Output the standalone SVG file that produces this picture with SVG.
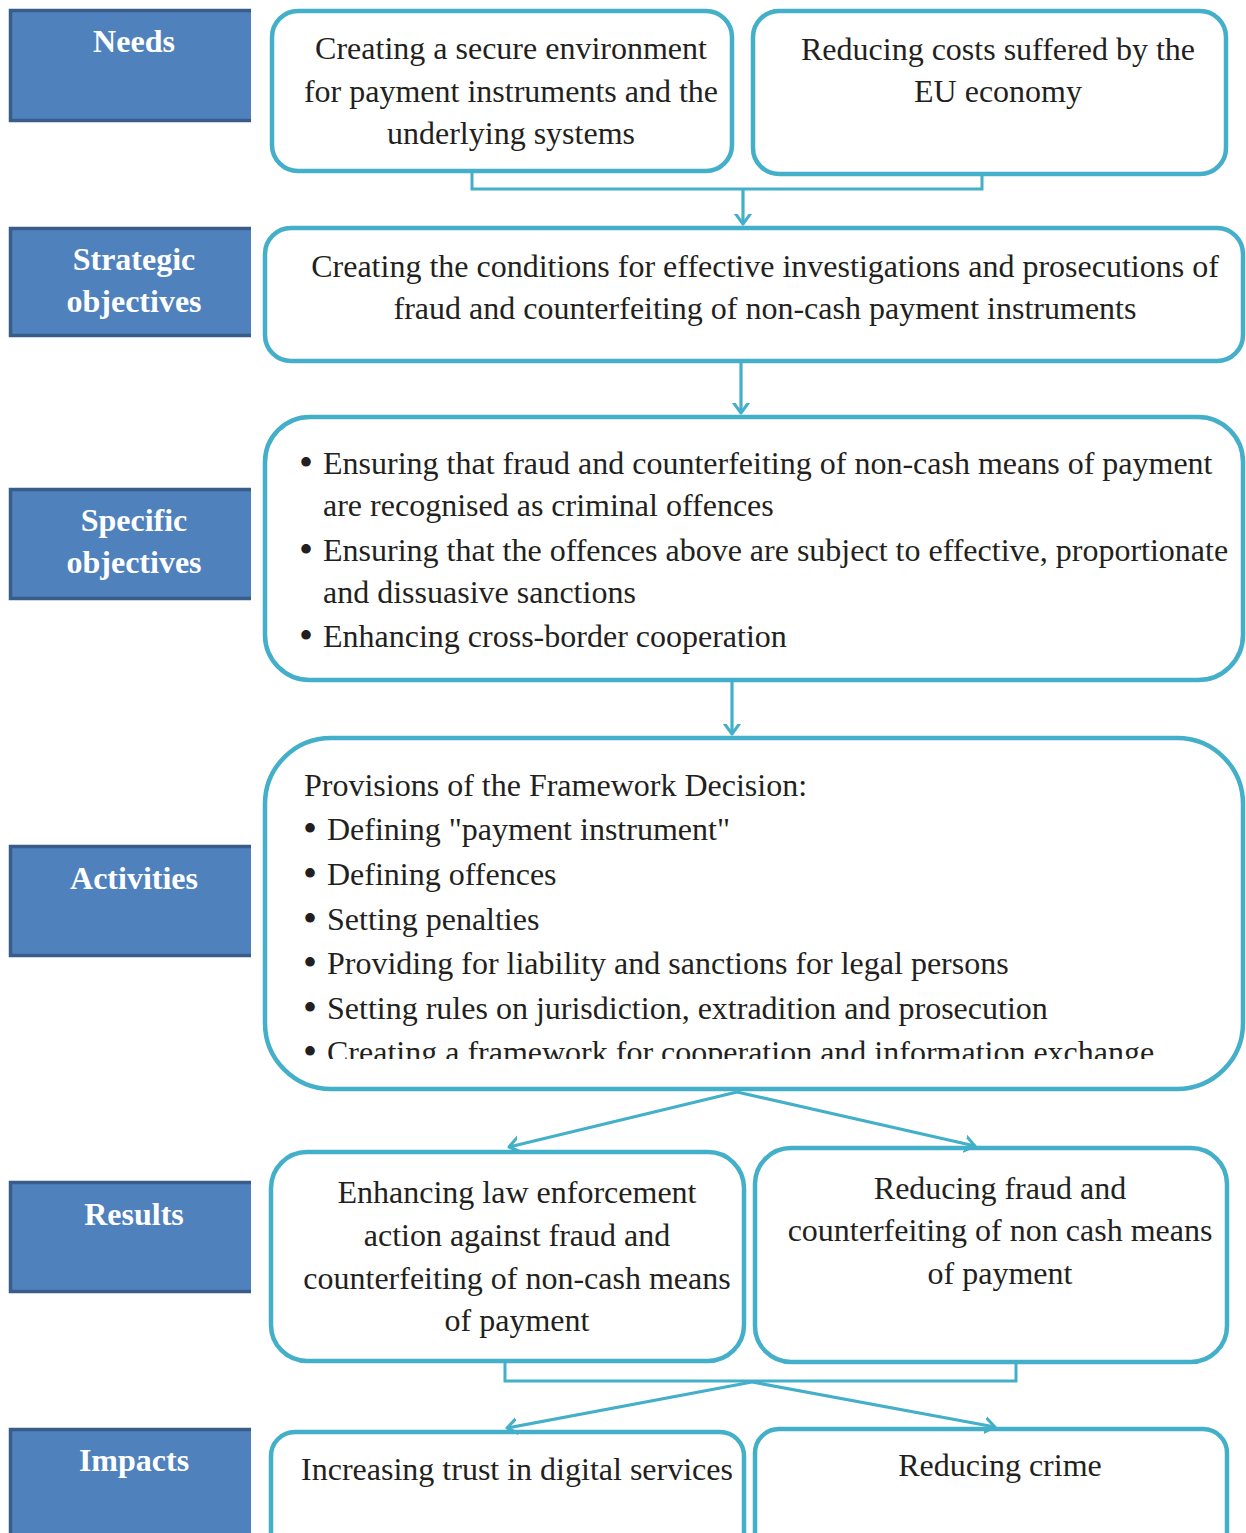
<svg xmlns="http://www.w3.org/2000/svg" width="1246" height="1533" viewBox="0 0 1246 1533">
<defs>
<style>
.lbl{fill:#4f81bd;}
.lblb{fill:none;stroke:#385d8a;stroke-width:3.5;}
.lt{font-family:"Liberation Serif",serif;font-weight:bold;font-size:32px;fill:#ffffff;text-anchor:middle;}
.box{fill:#ffffff;stroke:#43afc8;stroke-width:4.5;}
.t{font-family:"Liberation Serif",serif;font-size:32px;fill:#231f20;}
.c{text-anchor:middle;}
.b{font-size:40px;}
.con{fill:none;stroke:#43afc8;stroke-width:3;}
.arr{fill:none;stroke:#43afc8;stroke-width:3.2;marker-end:url(#ah);}
</style>
<marker id="ah" viewBox="0 0 20 20" refX="10" refY="10" markerWidth="20" markerHeight="20" markerUnits="userSpaceOnUse" orient="auto">
<path d="M-1,2 L10,10 L-1,18" fill="none" stroke="#43afc8" stroke-width="3" stroke-linecap="round" stroke-linejoin="round"/>
</marker>
<clipPath id="actclip"><rect x="260" y="735" width="990" height="324"/></clipPath>
</defs>

<g id="label-needs">
<rect class="lbl" x="10" y="10" width="241" height="111"/>
<path class="lblb" d="M251,10.5 H10.5 V120.5 H251"/>
<text class="lt" x="134" y="52">Needs</text>
</g>
<g id="label-strategic">
<rect class="lbl" x="10" y="228" width="241" height="108"/>
<path class="lblb" d="M251,228.5 H10.5 V335.5 H251"/>
<text class="lt" x="134" y="270">Strategic</text>
<text class="lt" x="134" y="312">objectives</text>
</g>
<g id="label-specific">
<rect class="lbl" x="10" y="489" width="241" height="110"/>
<path class="lblb" d="M251,489.5 H10.5 V598.5 H251"/>
<text class="lt" x="134" y="531">Specific</text>
<text class="lt" x="134" y="573">objectives</text>
</g>
<g id="label-activities">
<rect class="lbl" x="10" y="846" width="241" height="110"/>
<path class="lblb" d="M251,846.5 H10.5 V955.5 H251"/>
<text class="lt" x="134" y="889">Activities</text>
</g>
<g id="label-results">
<rect class="lbl" x="10" y="1182" width="241" height="110"/>
<path class="lblb" d="M251,1182.5 H10.5 V1291.5 H251"/>
<text class="lt" x="134" y="1225">Results</text>
</g>
<g id="label-impacts">
<rect class="lbl" x="10" y="1429" width="241" height="110"/>
<path class="lblb" d="M251,1429.5 H10.5 V1540"/>
<text class="lt" x="134" y="1471">Impacts</text>
</g>

<g id="need-secure">
<rect class="box" x="272" y="11" width="460" height="160" rx="26"/>
<text class="t c" x="511" y="59">Creating a secure environment</text>
<text class="t c" x="511" y="102">for payment instruments and the</text>
<text class="t c" x="511" y="144">underlying systems</text>
</g>
<g id="need-costs">
<rect class="box" x="753" y="11" width="473" height="163" rx="26"/>
<text class="t c" x="998" y="60">Reducing costs suffered by the</text>
<text class="t c" x="998" y="102">EU economy</text>
</g>

<g id="strategic">
<rect class="box" x="265" y="228" width="978" height="133" rx="26"/>
<text class="t c" x="765" y="277">Creating the conditions for effective investigations and prosecutions of</text>
<text class="t c" x="765" y="319">fraud and counterfeiting of non-cash payment instruments</text>
</g>

<g id="specific">
<rect class="box" x="265" y="417" width="978" height="263" rx="45"/>
<text class="t" y="474"><tspan class="b" x="299" dy="2">•</tspan><tspan x="323" dy="-2">Ensuring that fraud and counterfeiting of non-cash means of payment</tspan></text>
<text class="t" x="323" y="516">are recognised as criminal offences</text>
<text class="t" y="561"><tspan class="b" x="299" dy="2">•</tspan><tspan x="323" dy="-2">Ensuring that the offences above are subject to effective, proportionate</tspan></text>
<text class="t" x="323" y="603">and dissuasive sanctions</text>
<text class="t" y="647"><tspan class="b" x="299" dy="2">•</tspan><tspan x="323" dy="-2">Enhancing cross-border cooperation</tspan></text>
</g>

<g id="activities">
<rect class="box" x="265" y="738" width="978" height="351" rx="66"/>
<text class="t" x="304" y="796">Provisions of the Framework Decision:</text>
<text class="t" y="840"><tspan class="b" x="303" dy="2">•</tspan><tspan x="327" dy="-2">Defining "payment instrument"</tspan></text>
<text class="t" y="885"><tspan class="b" x="303" dy="2">•</tspan><tspan x="327" dy="-2">Defining offences</tspan></text>
<text class="t" y="930"><tspan class="b" x="303" dy="2">•</tspan><tspan x="327" dy="-2">Setting penalties</tspan></text>
<text class="t" y="974"><tspan class="b" x="303" dy="2">•</tspan><tspan x="327" dy="-2">Providing for liability and sanctions for legal persons</tspan></text>
<text class="t" y="1019"><tspan class="b" x="303" dy="2">•</tspan><tspan x="327" dy="-2">Setting rules on jurisdiction, extradition and prosecution</tspan></text>
<text class="t" y="1063" clip-path="url(#actclip)"><tspan class="b" x="303" dy="2">•</tspan><tspan x="327" dy="-2">Creating a framework for cooperation and  information exchange</tspan></text>
</g>

<g id="result-enforcement">
<rect class="box" x="271" y="1152" width="473" height="209" rx="36"/>
<text class="t c" x="517" y="1203">Enhancing law enforcement</text>
<text class="t c" x="517" y="1246">action against fraud and</text>
<text class="t c" x="517" y="1289">counterfeiting of non-cash means</text>
<text class="t c" x="517" y="1331">of payment</text>
</g>
<g id="result-reducing">
<rect class="box" x="755" y="1148" width="472" height="214" rx="36"/>
<text class="t c" x="1000" y="1199">Reducing fraud and</text>
<text class="t c" x="1000" y="1241">counterfeiting of non cash means</text>
<text class="t c" x="1000" y="1284">of payment</text>
</g>

<g id="impact-trust">
<rect class="box" x="271" y="1432" width="473" height="140" rx="24"/>
<text class="t c" x="517" y="1480">Increasing trust in digital services</text>
</g>
<g id="impact-crime">
<rect class="box" x="755" y="1429" width="472" height="140" rx="24"/>
<text class="t c" x="1000" y="1476">Reducing crime</text>
</g>

<g id="connectors">
<path class="con" d="M472,172 V189 H982 V175"/>
<path class="arr" d="M743,190 V224"/>
<path class="arr" d="M741,363 V413"/>
<path class="arr" d="M732,681 V734"/>
<path class="arr" d="M737,1092 L509,1147"/>
<path class="arr" d="M737,1092 L975,1146"/>
<path class="con" d="M505,1362 V1381 H1016 V1364"/>
<path class="arr" d="M752,1382 L507,1428"/>
<path class="arr" d="M752,1382 L995,1427"/>
</g>
</svg>
